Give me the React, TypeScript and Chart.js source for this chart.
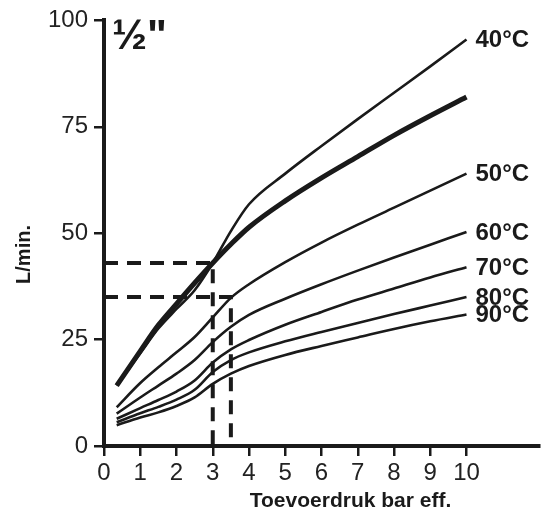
import React, { useEffect, useRef } from "react";
import { Chart, registerables } from "chart.js";

Chart.register(...registerables);

// pressure (bar eff.) sample points
const pressure = [0.35, 1, 1.5, 2, 2.5, 3, 3.5, 4, 5, 6, 7, 8, 9, 10];

// flow (L/min.) per curve
const flowThick = [14.2, 22.3, 28.4, 33.4, 38.3, 43, 47.4, 51.4, 57.6, 63, 68, 73, 77.6, 82];
const flow40 = [14.2, 21.8, 27.6, 32.2, 36.6, 43, 50.5, 56.8, 64, 70.5, 76.8, 83, 89.2, 95.5];
const flow50 = [9.1, 14.8, 18.5, 22, 25.6, 30.2, 34.8, 38, 43.2, 47.8, 52, 56, 60, 64];
const flow60 = [7.6, 11.4, 14.2, 17, 20.2, 24.4, 28, 30.8, 34.6, 38, 41.2, 44.3, 47.3, 50.3];
const flow70 = [6.4, 8.9, 10.8, 12.8, 15.4, 19.6, 22.7, 24.9, 28.5, 31.5, 34.4, 37, 39.6, 42];
const flow80 = [5.6, 7.7, 9.2, 10.9, 13.2, 17.4, 20.2, 22, 24.6, 26.8, 28.9, 31, 33, 35];
const flow90 = [4.9, 6.7, 7.9, 9.4, 11.4, 14.6, 17, 18.8, 21.4, 23.5, 25.5, 27.5, 29.3, 30.9];

const curveLabels = ["40°C", "", "50°C", "60°C", "70°C", "80°C", "90°C"];

// reference (dashed) readings
const refPressure = [3, 3.5];
const refFlow = [43, 35];

const xTicks = [0, 1, 2, 3, 4, 5, 6, 7, 8, 9, 10];
const yTicks = [0, 25, 50, 75, 100];

const sizeLabel = "½\"";
const yTitle = "L/min.";
const xTitle = "Toevoerdruk bar eff.";

const INK = "#1a1a1a";
const FONT = "'Liberation Sans', Arial, Helvetica, sans-serif";

function toPoints(ys: number[]) {
  return pressure.map((x, i) => ({ x, y: ys[i] }));
}

const textPlugin = {
  id: "texts",
  afterDatasetsDraw(chart: any) {
    const ctx = chart.ctx;
    const { left, top } = chart.chartArea;
    ctx.save();
    ctx.fillStyle = INK;
    // curve end labels
    ctx.font = `bold 24px ${FONT}`;
    ctx.textAlign = "left";
    ctx.textBaseline = "middle";
    chart.data.datasets.forEach((ds: any, i: number) => {
      if (!ds.endLabel) return;
      const meta = chart.getDatasetMeta(i);
      const pt = meta.data[meta.data.length - 1];
      ctx.fillText(ds.endLabel, pt.x + 9, pt.y + 1);
    });
    // size label
    ctx.font = `bold 42px ${FONT}`;
    ctx.textBaseline = "alphabetic";
    ctx.fillText(sizeLabel, left + 8, top + 29);
    // y title
    ctx.font = `bold 20px ${FONT}`;
    ctx.textAlign = "center";
    ctx.textBaseline = "middle";
    ctx.save();
    ctx.translate(24, chart.scales.y.getPixelForValue(45));
    ctx.rotate(-Math.PI / 2);
    ctx.fillText(yTitle, 0, 0);
    ctx.restore();
    // x title
    ctx.font = `bold 21px ${FONT}`;
    ctx.fillText(xTitle, chart.scales.x.getPixelForValue(6.8), 501);
    ctx.restore();
  },
};

export default function App() {
  const ref = useRef<HTMLCanvasElement | null>(null);

  useEffect(() => {
    if (!ref.current) return;
    const curves = [flow40, flowThick, flow50, flow60, flow70, flow80, flow90];
    const datasets: any[] = curves.map((ys, i) => ({
      label: curveLabels[i] || "thick",
      endLabel: curveLabels[i],
      data: toPoints(ys),
      borderColor: INK,
      borderWidth: i === 1 ? 5 : 2.6,
      pointRadius: 0,
      fill: false,
      cubicInterpolationMode: "monotone",
    }));
    refPressure.forEach((p, i) => {
      datasets.push({
        label: "ref" + i,
        data: [
          { x: 0, y: refFlow[i] },
          { x: p, y: refFlow[i] },
          { x: p, y: 0 },
        ],
        borderColor: INK,
        borderWidth: 4,
        borderDash: [14, 9],
        pointRadius: 0,
        tension: 0,
        fill: false,
        clip: false,
      });
    });

    const chart = new Chart(ref.current, {
      type: "line",
      data: { datasets },
      options: {
        animation: false,
        responsive: false,
        devicePixelRatio: 1,
        layout: { padding: { left: 0, top: 15, right: 7, bottom: 0 } },
        plugins: { legend: { display: false }, tooltip: { enabled: false } },
        scales: {
          x: {
            type: "linear",
            min: 0,
            max: 12,
            afterBuildTicks: (scale: any) => {
              scale.ticks = xTicks.map((v) => ({ value: v }));
            },
            afterFit: (scale: any) => {
              scale.height = 73;
            },
            ticks: {
              autoSkip: false,
              maxRotation: 0,
              padding: 3,
              color: "#222",
              font: { family: FONT, size: 24 },
              callback: (v: any) => String(v),
            },
            grid: {
              drawOnChartArea: false,
              drawTicks: true,
              tickLength: 10,
              color: INK,
              lineWidth: 2.5,
            },
            border: { display: true, color: INK, width: 4 },
          },
          y: {
            type: "linear",
            min: 0,
            max: 100,
            afterBuildTicks: (scale: any) => {
              scale.ticks = yTicks.map((v) => ({ value: v }));
            },
            afterFit: (scale: any) => {
              scale.width = 104;
            },
            ticks: {
              padding: 6,
              color: "#222",
              font: { family: FONT, size: 24 },
              callback: (v: any) => String(v),
            },
            grid: {
              drawOnChartArea: false,
              drawTicks: true,
              tickLength: 10,
              color: INK,
              lineWidth: 2.5,
            },
            border: { display: true, color: INK, width: 4 },
          },
        },
      },
      plugins: [textPlugin],
    });
    return () => chart.destroy();
  }, []);

  return (
    <div style={{ position: "fixed", left: 0, top: 0, width: 546, height: 519, background: "#fff" }}>
      <canvas ref={ref} width={546} height={519} style={{ display: "block" }} />
    </div>
  );
}
